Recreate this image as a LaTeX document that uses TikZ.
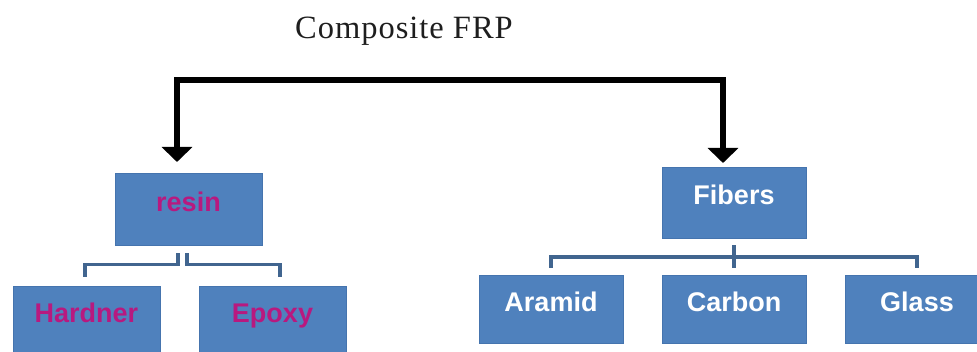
\documentclass[tikz,border=0pt]{standalone}
\usepackage{fontspec}
\setmainfont{Liberation Serif}
\setsansfont{Liberation Sans}
\newfontfamily\titlefont[LetterSpace=3]{Liberation Serif}
\usetikzlibrary{arrows.meta,calc}
\definecolor{boxblue}{HTML}{4F81BD}
\definecolor{boxedge}{HTML}{4574AE}
\definecolor{connblue}{HTML}{41658F}
\definecolor{magtext}{HTML}{B8197F}
\definecolor{titletext}{HTML}{1E1E1E}
\tikzset{
  fbox/.style={rectangle, fill=boxblue, draw=boxedge, line width=0.8pt, inner sep=0pt,
    font=\sffamily\bfseries\fontsize{27}{31}\selectfont, text height=0.716em, text depth=0.25em},
  whitetxt/.style={text=white},
  magtxt/.style={text=magtext},
  conn/.style={draw=connblue, line width=3.2pt, line join=miter},
  bigarrow/.style={draw=black, line width=6pt, line join=miter, -{Triangle[width=30pt,length=15pt]}},
}
\begin{document}
\begin{tikzpicture}[x=1pt,y=-1pt]
\useasboundingbox (0,0) rectangle (977,352);
\clip (0,0) rectangle (977,352);
% title
\node[anchor=base, text=titletext, font=\titlefont\fontsize{32.5}{38}\selectfont, inner sep=0pt] (title) at (404,39) {Composite FRP};
% boxes
\node[fbox, magtxt, minimum width=147pt, minimum height=72pt] (res) at (188.5,209) {resin};
\node[fbox, magtxt, minimum width=147pt, minimum height=68pt] (har) at (86.5,320) {Hardner};
\node[fbox, magtxt, minimum width=147pt, minimum height=68pt] (epo) at (272.5,320) {Epoxy};
\node[fbox, whitetxt, minimum width=144pt, minimum height=71pt] (fib) at (734,202.5) {Fibers};
\node[fbox, whitetxt, minimum width=144pt, minimum height=68pt] (ara) at (551,309) {Aramid};
\node[fbox, whitetxt, minimum width=144pt, minimum height=68pt] (car) at (734,309) {Carbon};
\node[fbox, whitetxt, minimum width=144pt, minimum height=68pt] (gla) at (917,309) {Glass};
% big arrows
\coordinate (tm) at (450,80);
\coordinate (rtip) at (177,162);
\coordinate (ftip) at (723,163);
\draw[bigarrow] (tm) -| (rtip);
\draw[bigarrow] (tm) -| (ftip);
% resin connectors
\draw[conn] ([xshift=-10.5pt,yshift=-8pt]res.south) -- ++(0,11) -| ([xshift=-1.5pt,yshift=9pt]har.north);
\draw[conn] ([xshift=-1.5pt,yshift=-8pt]res.south) -- ++(0,11) -| ([xshift=7.5pt,yshift=9pt]epo.north);
% fibers connectors
\coordinate (fj) at (734,257);
\draw[conn] ([yshift=7pt]ara.north) |- (fj) -| ([yshift=7pt]gla.north);
\draw[conn] ([yshift=-7pt]fib.south) -- ([yshift=7pt]car.north);
\end{tikzpicture}
\end{document}
